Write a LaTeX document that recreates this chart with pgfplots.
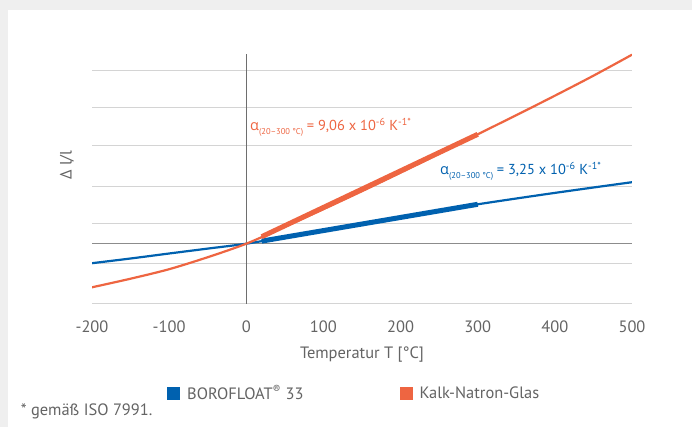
\documentclass[border=0pt]{standalone}
\usepackage{pgfplots}
\pgfplotsset{compat=1.18}
\usepackage{fontspec}
\setmainfont{PT Sans}
\newfontfamily\grk{Open Sans}
\definecolor{boroblue}{RGB}{0,97,175}
\definecolor{sodaorange}{RGB}{238,101,65}
\definecolor{txtgray}{RGB}{100,100,100}
\definecolor{gridgray}{RGB}{212,212,212}
\definecolor{zerogray}{RGB}{140,140,140}
\definecolor{vgray}{RGB}{110,110,110}
\definecolor{bggray}{RGB}{239,239,239}
\newcommand{\lf}{\fontsize{16.5}{18}\selectfont}
\newcommand{\af}{\fontsize{14.5}{16}\selectfont}
\begin{document}
\begin{tikzpicture}
\path[use as bounding box] (0,0) rectangle (692bp,427bp);
\fill[white] (0,0) rectangle (692bp,427bp);
\fill[bggray] (0,417bp) rectangle (692bp,427bp);
\fill[bggray] (0,0) rectangle (8bp,427bp);
\begin{axis}[
  at={(92bp,123.3bp)}, anchor=south west,
  scale only axis, width=540bp, height=249.7bp,
  xmin=-200, xmax=500, ymin=-60, ymax=189.7,
  axis line style={draw=none},
  major tick length=0pt,
  xtick={-200,-100,0,100,200,300,400,500},
  ytick={-60,-20,20,57.4,98,136,173},
  yticklabels={},
  ymajorgrids,
  grid style={gridgray, line width=1.3bp},
  extra y ticks={0}, extra y tick labels={},
  extra y tick style={grid style={zerogray, line width=1.6bp}},
  /pgf/number format/assume math mode=true,
  xticklabel style={anchor=base, yshift=-28.6bp, font=\lf, text=txtgray},
  xlabel={Temperatur T [°C]},
  xlabel style={at={(axis description cs:0.5,-0.205)}, anchor=center, font=\lf, text=txtgray},
  legend columns=2,
  legend image code/.code={\fill[#1, draw=none] (0bp,-6.5bp) rectangle (13bp,6.5bp); \path[draw=none, fill=none] (13bp,0bp) -- (18bp,0bp);},
  legend style={at={(axis description cs:0.1389,-0.3588)}, anchor=west, draw=none, fill=none,
    inner sep=0pt, font=\lf, text=txtgray,
    /tikz/every even column/.append style={column sep=94bp}},
]
\addplot[vgray, line width=1.2bp, forget plot] coordinates {(0,-62) (0,189.7)};
\addplot[boroblue, line width=2.2bp, smooth, forget plot] coordinates {
(-200,-19.5) (-150,-14.8) (-100,-9.8) (-50,-4.9) (0,0) (50,6.6) (100,13.3) (150,20.0) (200,26.6) (250,33.1) (300,39.4) (350,45.2) (400,50.8) (450,56.2) (500,61.5)};
\addplot[boroblue, line width=5bp, forget plot] coordinates {(20,2.6) (300,39.4)};
\addplot[sodaorange, line width=2.2bp, smooth, forget plot] coordinates {
(-200,-43.6) (-150,-35) (-100,-25.5) (-50,-13.5) (0,0) (50,17) (100,34.5) (150,52.5) (200,71) (250,90) (300,109.4) (350,128.5) (400,148) (450,168) (500,189)};
\addplot[sodaorange, line width=5bp, forget plot] coordinates {(20,7) (300,109.4)};
\addlegendimage{fill=boroblue}
\addlegendentry{BOROFLOAT\textsuperscript{®} 33}
\addlegendimage{fill=sodaorange}
\addlegendentry{Kalk-Natron-Glas}
\end{axis}
\node[rotate=90, text=txtgray, font=\lf] at (67bp,262bp) {Δ l/l};
\node[anchor=base west, text=sodaorange, font=\af, inner sep=0pt] at (250bp,296bp)
  {{\grk α}\raisebox{-4bp}{\fontsize{8.5}{9}\selectfont(20–300 °C)} = 9,06 x 10\textsuperscript{-6} K\textsuperscript{-1*}};
\node[anchor=base west, text=boroblue, font=\af, inner sep=0pt] at (440bp,252bp)
  {{\grk α}\raisebox{-4bp}{\fontsize{8.5}{9}\selectfont(20–300 °C)} = 3,25 x 10\textsuperscript{-6} K\textsuperscript{-1*}};
\node[anchor=west, text=txtgray, font=\lf, inner sep=0pt] at (20.7bp,16bp) {* gemäß ISO 7991.};
\end{tikzpicture}
\end{document}
